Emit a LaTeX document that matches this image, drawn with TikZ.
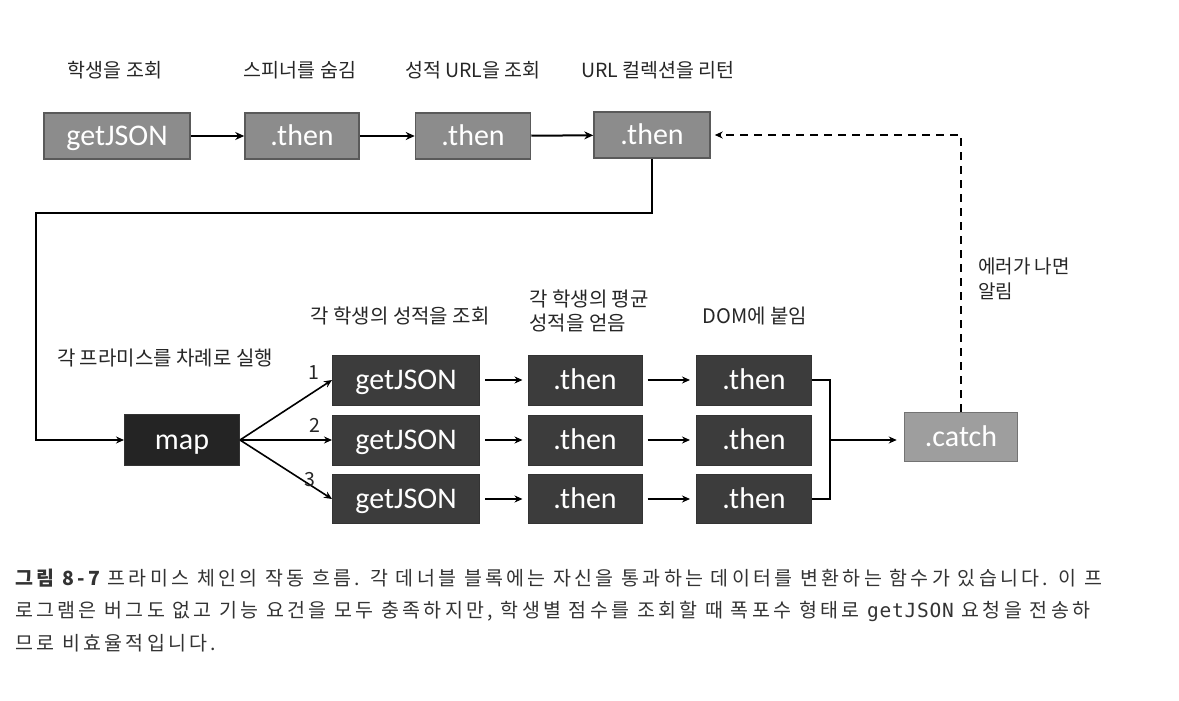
\documentclass[tikz,border=0pt]{standalone}
\usepackage{fontspec}
\setmainfont{Noto Sans CJK KR}
\newfontfamily\boxfont{Carlito}
\newfontfamily\krfont{Noto Sans CJK KR}
\newfontfamily\capfont[LetterSpace=17]{Noto Sans CJK KR}
\newfontfamily\capmono[LetterSpace=4]{DejaVu Sans Mono}
\usetikzlibrary{arrows.meta}
\definecolor{topgray}{HTML}{8C8C8C}
\definecolor{topedge}{HTML}{5A5A5A}
\definecolor{darkfill}{HTML}{3C3C3C}
\definecolor{mapfill}{HTML}{242424}
\definecolor{catchfill}{HTML}{9E9E9E}
\definecolor{captxt}{HTML}{333333}
\begin{document}
\begin{tikzpicture}[x=1pt,y=-1pt,
  lightbox/.style={draw=topedge, line width=1.5pt, fill=topgray, text=white, font=\boxfont\fontsize{30}{32}\selectfont, inner sep=0pt, text height=22pt, text depth=3pt},
  darkbox/.style={draw=black!80, line width=1pt, fill=darkfill, text=white, font=\boxfont\fontsize{30}{32}\selectfont, inner sep=0pt, minimum height=50, text height=22pt, text depth=3pt},
  lbl/.style={font=\krfont\fontsize{19.5}{24}\selectfont, text=black!85, inner sep=0pt},
  thickarr/.style={line width=2pt, -{Stealth[length=9pt,width=8pt]}},
  thinarr/.style={line width=1.6pt, -{Stealth[length=8pt,width=7pt]}},
  plain/.style={line width=1.6pt},
  captxtstyle/.style={font=\capfont\fontsize{19.5}{24}\selectfont, text=captxt, anchor=west, inner sep=0pt}
]
\path[use as bounding box, fill=white] (0,0) rectangle (1179,701);

% top row
\node[lightbox, minimum width=146, minimum height=46] (g0) at (117,136) {getJSON};
\node[lightbox, minimum width=114, minimum height=46] (t1) at (302,136) {.then};
\node[lightbox, minimum width=115, minimum height=46] (t2) at (473,136) {.then};
\node[lightbox, minimum width=116, minimum height=46] (t3) at (652,135) {.then};

\node[lbl] (l0) at (115,70) {학생을 조회};
\node[lbl] (l1) at (300,70) {스피너를 숨김};
\node[lbl] (l2) at (473,70) {성적 URL을 조회};
\node[lbl] (l3) at (658,70) {URL 컬렉션을 리턴};

\draw[thickarr] (g0) -- (t1);
\draw[thickarr] (t1) -- (t2);
\draw[thickarr] (t2) -- (t3);

% map
\node[darkbox, fill=mapfill, minimum width=115, minimum height=51] (map) at (182,440) {map};
\node[lbl, font=\krfont\fontsize{20}{24}\selectfont] (lmap) at (165,358) {각 프라미스를 차례로 실행};

\coordinate (c1) at (36,213);
\draw[thinarr] (t3.south) -- (t3.south |- c1) -- (c1) -- (c1 |- map.west) -- (map.west);

% middle grid
\node[darkbox, minimum width=147] (j1) at (406,380) {getJSON};
\node[darkbox, minimum width=147] (j2) at (406,440) {getJSON};
\node[darkbox, minimum width=147, minimum height=49] (j3) at (406,499) {getJSON};
\node[darkbox, minimum width=114] (a1) at (585,380) {.then};
\node[darkbox, minimum width=114] (a2) at (585,440) {.then};
\node[darkbox, minimum width=114, minimum height=49] (a3) at (585,499) {.then};
\node[darkbox, minimum width=115] (b1) at (754,380) {.then};
\node[darkbox, minimum width=115] (b2) at (754,440) {.then};
\node[darkbox, minimum width=115, minimum height=49] (b3) at (754,499) {.then};

\node[lbl, font=\krfont\fontsize{20}{24}\selectfont] (lj) at (400,316) {각 학생의 성적을 조회};
\node[lbl, align=left, font=\krfont\fontsize{20}{24}\selectfont] (la) at (589,311) {각 학생의 평균\\성적을 얻음};
\node[lbl, font=\krfont\fontsize{20}{24}\selectfont] (lb) at (755,316) {DOM에 붙임};

\draw[thinarr] (map.east) -- (j1.west);
\draw[thinarr] (map.east) -- (j2.west);
\draw[thinarr] (map.east) -- (j3.west);
\node[lbl] (n1) at (314,373) {1};
\node[lbl] (n2) at (315,425) {2};
\node[lbl] (n3) at (310,480) {3};

\foreach \r in {1,2,3}{
  \draw[thinarr] ([xshift=5pt]j\r.east) -- ([xshift=-5pt]a\r.west);
  \draw[thinarr] ([xshift=5pt]a\r.east) -- ([xshift=-6pt]b\r.west);
}

% bracket and catch
\node[lightbox, fill=catchfill, draw=black!55, minimum width=113, minimum height=49] (catch) at (961,437) {.catch};
\coordinate (br) at (830,440);
\draw[plain] (b1.east) -- (b1.east -| br) -- (b3.east -| br) -- (b3.east);
\draw[thinarr] (br) -- ([xshift=-7pt]catch.west |- br);

\draw[line width=1.6pt, dashed, dash pattern=on 8pt off 6pt, -{Stealth[length=8pt,width=7pt]}] (catch.north) |- ([xshift=4pt]t3.east);
\node[lbl, align=left, anchor=north west, font=\krfont\fontsize{19}{25}\selectfont] (lerr) at (978,258) {에러가 나면\\알림};

% caption
\node[captxtstyle] (cap1) at (15,578) {{\bfseries 그림 8-7} 프라미스 체인의 작동 흐름. 각 데너블 블록에는 자신을 통과하는 데이터를 변환하는 함수가 있습니다. 이 프};
\node[captxtstyle] (cap2) at (15,611) {로그램은 버그도 없고 기능 요건을 모두 충족하지만, 학생별 점수를 조회할 때 폭포수 형태로 {\capmono getJSON} 요청을 전송하};
\node[captxtstyle] (cap3) at (15,643) {므로 비효율적입니다.};
\end{tikzpicture}
\end{document}
